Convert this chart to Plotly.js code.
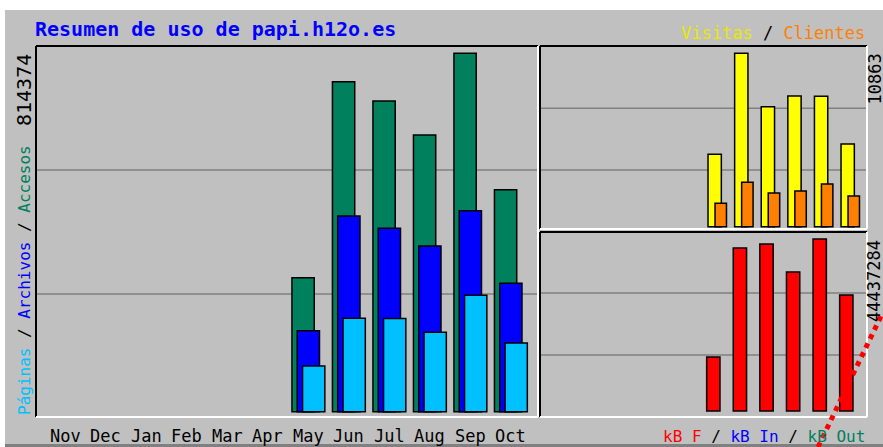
<!DOCTYPE html>
<html>
<head>
<meta charset="utf-8">
<script src="https://cdn.plot.ly/plotly-3.0.1.min.js"></script>
<style>
html,body{margin:0;padding:0;background:#fff;}
#chart{width:883px;height:447px;}
</style>
</head>
<body>
<div id="chart"></div>
<script>
// ---- data ----
const months = ["Nov","Dec","Jan","Feb","Mar","Apr","May","Jun","Jul","Aug","Sep","Oct"];
const accesos  = [null,null,null,null,null,null,304500,749900,706000,628700,814374,504400];
const archivos = [null,null,null,null,null,null,184000,444700,416700,376500,456700,291800];
const paginas  = [null,null,null,null,null,null,103800,212200,211900,180400,264500,156100];
const visitas  = [null,null,null,null,null,null,4536,10863,7518,8188,8170,5181];
const clientes = [null,null,null,null,null,null,1466,2781,2111,2236,2675,1923];
const kbytes   = [null,null,null,null,null,null,13950000,42110000,43150000,35910000,44437284,29970000];

const W = 883, H = 447;
const idx = months.map((m,i)=>i);
const maxHits = Math.max(...accesos.filter(v=>v!=null));
const maxVis = Math.max(...visitas.filter(v=>v!=null));
const maxKB = Math.max(...kbytes.filter(v=>v!=null));

function px2x(a,b){return [a/W,b/W];}
function py2y(top,bot){return [1-bot/H,1-top/H];}

// pixel geometry of panels
const main = {l:36,r:538,t:46,b:417,zero:411.7,topv:53.3,step:40.5,c0:65.35};
const vis  = {l:540,r:867,t:46,b:229,zero:226.7,topv:53.3,step:26.6,c0:557.7};
const kb   = {l:540,r:867,t:232,b:417,zero:411,topv:239,step:26.6,c0:557.7};

function yr(p,maxv){
  const k=(p.zero-p.topv)/maxv;
  return [-(p.b-p.zero)/k,(p.zero-p.t)/k];
}
function xr(p){return [(p.l-p.c0)/p.step,(p.r-p.c0)/p.step];}

const edge='#000';
const traces = [
  {type:'bar',x:idx,y:accesos,xaxis:'x',yaxis:'y',width:0.55,offset:-0.405,marker:{color:'#00805C',line:{color:edge,width:1.5}},hoverinfo:'y'},
  {type:'bar',x:idx,y:archivos,xaxis:'x',yaxis:'y',width:0.55,offset:-0.275,marker:{color:'#0000FF',line:{color:edge,width:1.5}},hoverinfo:'y'},
  {type:'bar',x:idx,y:paginas,xaxis:'x',yaxis:'y',width:0.55,offset:-0.143,marker:{color:'#00C0FF',line:{color:edge,width:1.5}},hoverinfo:'y'},
  {type:'bar',x:idx,y:visitas,xaxis:'x2',yaxis:'y2',width:0.5,offset:-0.348,marker:{color:'#FFFF00',line:{color:edge,width:1.5}},hoverinfo:'y'},
  {type:'bar',x:idx,y:clientes,xaxis:'x2',yaxis:'y2',width:0.43,offset:-0.085,marker:{color:'#FF8000',line:{color:edge,width:1.5}},hoverinfo:'y'},
  {type:'bar',x:idx,y:kbytes,xaxis:'x3',yaxis:'y3',width:0.5,offset:-0.40,marker:{color:'#FF0000',line:{color:edge,width:1.5}},hoverinfo:'y'}
];

const axBase = {showgrid:false,zeroline:false,showline:false,ticks:'',fixedrange:true};
const mono = "DejaVu Sans Mono, monospace";

const layout = {
  width:W,height:H,margin:{l:0,r:0,t:0,b:0},
  paper_bgcolor:'#FFFFFF',plot_bgcolor:'rgba(0,0,0,0)',
  barmode:'overlay',showlegend:false,
  xaxis:Object.assign({},axBase,{domain:px2x(main.l,main.r),range:xr(main),tickvals:idx,ticktext:months,showticklabels:false}),
  yaxis:Object.assign({},axBase,{domain:py2y(main.t,main.b),range:yr(main,maxHits),showticklabels:false}),
  xaxis2:Object.assign({},axBase,{domain:px2x(vis.l,vis.r),range:xr(vis),showticklabels:false,anchor:'y2'}),
  yaxis2:Object.assign({},axBase,{domain:py2y(vis.t,vis.b),range:yr(vis,maxVis),showticklabels:false,anchor:'x2'}),
  xaxis3:Object.assign({},axBase,{domain:px2x(kb.l,kb.r),range:xr(kb),showticklabels:false,anchor:'y3'}),
  yaxis3:Object.assign({},axBase,{domain:py2y(kb.t,kb.b),range:yr(kb,maxKB),showticklabels:false,anchor:'x3'}),
  shapes:[],
  annotations:[]
};

// background image area
layout.shapes.push({type:'rect',xref:'paper',yref:'paper',x0:5/W,x1:1,y0:0,y1:1-10/H,fillcolor:'#C0C0C0',line:{width:0},layer:'below'});
layout.shapes.push({type:'rect',xref:'paper',yref:'paper',x0:5/W,x1:1,y0:0,y1:3/H,fillcolor:'#808080',line:{width:0},layer:'below'});

// gridlines (pixel positions of original image)
function hline(p,ypx){
  layout.shapes.push({type:'line',xref:'paper',yref:'paper',x0:p.l/W,x1:p.r/W,y0:1-ypx/H,y1:1-ypx/H,line:{color:'#808080',width:1.5},layer:'below'});
}
hline(main,170);hline(main,294);
hline(vis,108.3);hline(vis,170);
hline(kb,293);hline(kb,355);

// 3D frames
function frame(p){
  const L=p.l/W,R=p.r/W,T=1-p.t/H,B=1-p.b/H;
  layout.shapes.push({type:'line',xref:'paper',yref:'paper',x0:L,x1:R,y0:T,y1:T,line:{color:'#000',width:2},layer:'above'});
  layout.shapes.push({type:'line',xref:'paper',yref:'paper',x0:L,x1:L,y0:B,y1:T,line:{color:'#000',width:2},layer:'above'});
  layout.shapes.push({type:'line',xref:'paper',yref:'paper',x0:L,x1:R,y0:B,y1:B,line:{color:'#FFFFFF',width:2},layer:'above'});
  layout.shapes.push({type:'line',xref:'paper',yref:'paper',x0:R,x1:R,y0:B,y1:T,line:{color:'#FFFFFF',width:2},layer:'above'});
}
frame(main);frame(vis);frame(kb);

function ann(text,xpx,ypx,opts){
  layout.annotations.push(Object.assign({xref:'paper',yref:'paper',x:xpx/W,y:1-ypx/H,text:text,showarrow:false,
    font:{family:mono,size:17,color:'#000'}},opts||{}));
}
// title
ann('<b>Resumen de uso de papi.h12o.es</b>',33,29,{xanchor:'left',yanchor:'middle',font:{family:mono,size:20,color:'#0000FF'}});
// top right legend
ann('<span style="color:#E8E800">Visitas</span> / <span style="color:#FF8000">Clientes</span>',867,33,{xanchor:'right',yanchor:'middle',font:{family:mono,size:17,color:'#000'}});
// bottom right legend
ann('<span style="color:#FF0000">kB F</span> / <span style="color:#0000FF">kB In</span> / <span style="color:#00805C">kB Out</span>',867,436,{xanchor:'right',yanchor:'middle',font:{family:mono,size:16,color:'#000'}});
// left rotated
ann('<span style="color:#00C0FF">Páginas</span> / <span style="color:#0000FF">Archivos</span> / <span style="color:#00805C">Accesos</span>',24,417,{textangle:-90,xanchor:'center',yanchor:'bottom',font:{family:mono,size:16,color:'#000'}});
ann(String(maxHits),24,52,{textangle:-90,xanchor:'center',yanchor:'top',font:{family:mono,size:20,color:'#000'}});
ann(String(maxVis),874,52,{textangle:-90,xanchor:'center',yanchor:'top',font:{family:mono,size:17,color:'#000'}});
ann(String(maxKB),874,238,{textangle:-90,xanchor:'center',yanchor:'top',font:{family:mono,size:17,color:'#000'}});
// month labels
months.forEach((m,i)=>{
  layout.annotations.push({xref:'x',yref:'paper',x:i,y:1-436/H,text:m,showarrow:false,xanchor:'center',yanchor:'middle',font:{family:mono,size:17,color:'#000'}});
});
// red dotted overlay line
layout.shapes.push({type:'line',xref:'paper',yref:'paper',x0:818/W,y0:1-447/H,x1:1,y1:1-312/H,line:{color:'#FF0000',width:5,dash:'dot'},layer:'above'});

Plotly.newPlot('chart',traces,layout,{displayModeBar:false,staticPlot:true});
</script>
</body>
</html>
